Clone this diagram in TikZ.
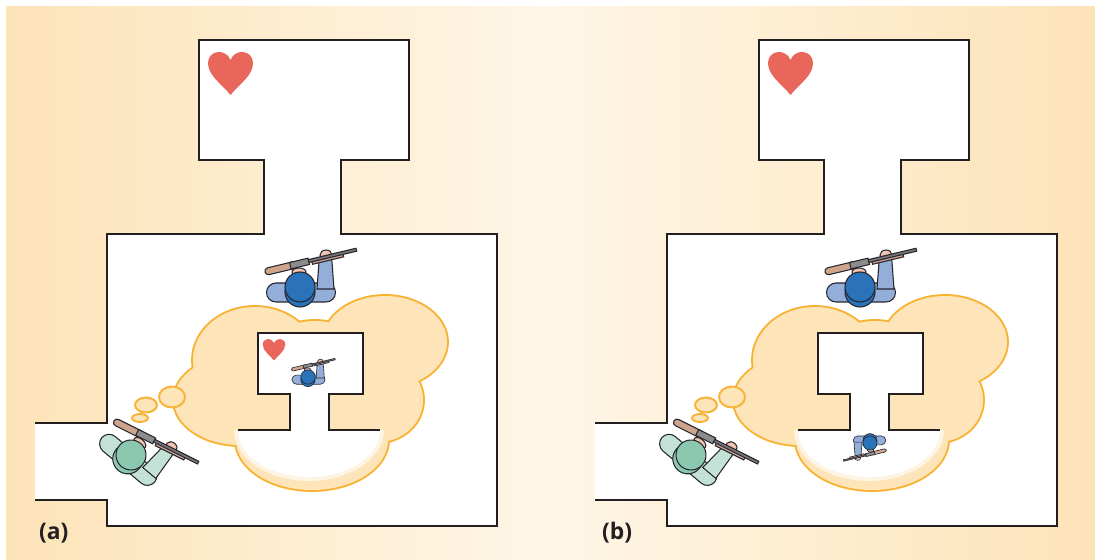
\documentclass[tikz,border=0pt]{standalone}
\usepackage{fontspec}
\setsansfont{Open Sans}

\definecolor{bgedge}{HTML}{FDE3B8}
\definecolor{bgmid}{HTML}{FEF6E7}
\definecolor{wallcol}{HTML}{231F20}
\definecolor{cloudfill}{HTML}{FDE4B9}
\definecolor{cloudline}{HTML}{F8B334}
\definecolor{heartred}{HTML}{E8675A}
\definecolor{armblue}{HTML}{94AEDA}
\definecolor{capblue}{HTML}{2A73B9}
\definecolor{armgreen}{HTML}{C3E2D5}
\definecolor{capgreen}{HTML}{8CC7B0}
\definecolor{skin}{HTML}{F2C3AD}
\definecolor{stockcol}{HTML}{CFA48C}
\definecolor{gungrey}{HTML}{8C8C8C}
\definecolor{outl}{HTML}{26262E}

\tikzset{
  wall/.style={draw=wallcol, line width=1.2pt},
  minwall/.style={draw=wallcol, line width=0.85pt},
  figline/.style={draw=outl, line width=0.6pt},
  bubble/.style={draw=cloudline, line width=1.1pt, fill=cloudfill},
  body colour/.store in=\bodycol, body colour=armblue,
  head colour/.store in=\headcol, head colour=capblue,
  heart/.pic={
    \fill[heartred] (0,22) .. controls (-8.5,11) and (-22.5,3) .. (-22.5,-10)
      .. controls (-22.5,-23) and (-4.5,-25) .. (0,-13)
      .. controls (4.5,-25) and (22.5,-23) .. (22.5,-10)
      .. controls (22.5,3) and (8.5,11) .. (0,22) -- cycle;
  },
  soldier/.pic={
    % shoulders and right arm
    \filldraw[figline, fill=\bodycol] (-24,-4) -- (26,-4) arc[start angle=-90, end angle=90, radius=9.5]
      -- (-24,15) arc[start angle=90, end angle=270, radius=9.5] -- cycle;
    \filldraw[figline, fill=\bodycol] (17,2) -- (19,-25) arc[start angle=180, end angle=360, radius=6.5] -- (34,2) -- cycle;
    \filldraw[figline, fill=skin] (26,-32) ellipse[x radius=6, y radius=5];
    % rifle
    \begin{scope}[shift={(-35,-15)}, rotate=13.4]
      \filldraw[figline, fill=stockcol] (3.5,-3.5) -- (30,-3.5) -- (30,3.5) -- (3.5,3.5) arc[start angle=90, end angle=270, radius=3.5] -- cycle;
      \filldraw[figline, fill=stockcol] (48,-0.5) rectangle (80,3.5);
      \filldraw[figline, fill=gungrey] (26,-3.5) rectangle (45,3);
      \filldraw[figline, fill=gungrey!85!black] (45,-2) rectangle (94,1);
    \end{scope}
    % head with helmet
    \filldraw[figline, fill=skin] (-1,-15) ellipse[x radius=7, y radius=4];
    \filldraw[figline, fill=\headcol] (0,5) circle[radius=15];
    \filldraw[figline, fill=\headcol] (0,0) circle[radius=15];
  }
}

\begin{document}
\begin{tikzpicture}[x=0.02cm, y=-0.02cm]
\useasboundingbox (0,0) rectangle (1095,560);
% backdrop
\shade[left color=bgedge, right color=bgmid] (6,7) rectangle (548,560);
\shade[left color=bgmid, right color=bgedge] (547,7) rectangle (1095,560);

\foreach \dx in {0,560} {
\begin{scope}[shift={(\dx,0)}]
  % rooms and corridors
  \fill[white] (35,423) -- (107,423) -- (107,234) -- (264,234) -- (264,160) -- (199,160) -- (199,40)
    -- (409,40) -- (409,160) -- (341,160) -- (341,234) -- (497,234) -- (497,526) -- (107,526)
    -- (107,500) -- (35,500) -- cycle;
  \draw[wall] (35,423) -- (107,423) -- (107,234) -- (264,234) -- (264,160) -- (199,160) -- (199,40)
    -- (409,40) -- (409,160) -- (341,160) -- (341,234) -- (497,234) -- (497,526) -- (107,526)
    -- (107,500) -- (35,500);
  \pic at (230.5,73) {heart};

  % thought cloud: outline first, then the fill on top
  \foreach \cx/\cy/\rx/\ry in {255/360/62/53, 385/342/62/46, 240/400/66/45, 312/440/76/50, 378/400/45/42, 315/390/70/69}
    \draw[cloudline, line width=2.2pt] (\cx,\cy) ellipse[x radius=\rx, y radius=\ry];
  \foreach \cx/\cy/\rx/\ry in {255/360/62/53, 385/342/62/46, 240/400/66/45, 312/440/76/50, 378/400/45/42, 315/390/70/69}
    \fill[cloudfill] (\cx,\cy) ellipse[x radius=\rx, y radius=\ry];
  \draw[bubble] (172,397) ellipse[x radius=13, y radius=10.5];
  \draw[bubble] (146,405) ellipse[x radius=11, y radius=7.5];
  \draw[bubble] (140,418) ellipse[x radius=8, y radius=4];

  % small plan inside the cloud
  \fill[cloudfill!40!white] (234,430) arc[start angle=180, end angle=0, x radius=75, y radius=51] -- cycle;
  \fill[white] (238,430) arc[start angle=180, end angle=0, x radius=71, y radius=47] -- cycle;
  \fill[white] (290,431) -- (290,394) -- (258,394) -- (258,333) -- (363,333) -- (363,394) -- (329,394) -- (329,431) -- cycle;
  \draw[minwall] (238,430) -- (290,430) -- (290,394) -- (258,394) -- (258,333) -- (363,333)
    -- (363,394) -- (329,394) -- (329,430) -- (380,430);

  % guard and intruder
  \pic at (300,287) {soldier};
  \pic[rotate=-40, body colour=armgreen, head colour=capgreen] at (131,455) {soldier};
\end{scope}
}

% what the intruder pictures
\pic[scale=0.5] at (274,349.5) {heart};
\pic[scale=0.48, figline/.style={draw=outl, line width=0.35pt}] at (308,377) {soldier};
\pic[scale=0.47, rotate=180, figline/.style={draw=outl, line width=0.35pt}] at (870,443) {soldier};

\node[font=\sffamily\bfseries\fontsize{13}{15}\selectfont, text=wallcol, anchor=west] (lbla) at (33,533) {(a)};
\node[font=\sffamily\bfseries\fontsize{13}{15}\selectfont, text=wallcol, anchor=west] (lblb) at (596,533) {(b)};
\end{tikzpicture}
\end{document}
